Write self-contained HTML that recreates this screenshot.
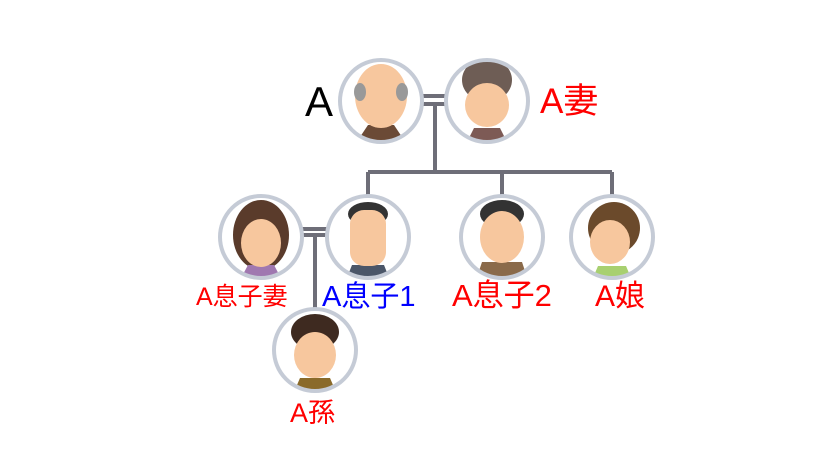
<!DOCTYPE html>
<html><head><meta charset="utf-8"><style>
html,body{margin:0;padding:0;background:#fff}
svg text{font-family:"Liberation Sans","Noto Sans CJK JP",sans-serif}
</style></head><body>
<svg width="830" height="470" viewBox="0 0 830 470" xmlns="http://www.w3.org/2000/svg">
<g stroke="#6e6e78" stroke-width="4" fill="none">
<line x1="423" y1="96" x2="446" y2="96"/>
<line x1="423" y1="104" x2="446" y2="104"/>
<line x1="435" y1="104" x2="435" y2="172"/>
<line x1="368" y1="172" x2="612" y2="172"/>
<line x1="368" y1="172" x2="368" y2="196"/>
<line x1="502" y1="172" x2="502" y2="196"/>
<line x1="612" y1="172" x2="612" y2="196"/>
<line x1="302" y1="229" x2="327" y2="229"/>
<line x1="302" y1="235" x2="327" y2="235"/>
<line x1="315" y1="235" x2="315" y2="308"/>
</g>
<defs>
<clipPath id="c1"><circle cx="381" cy="101" r="40"/></clipPath>
<clipPath id="c2"><circle cx="487" cy="101" r="40"/></clipPath>
<clipPath id="c3"><circle cx="261" cy="237" r="40"/></clipPath>
<clipPath id="c4"><circle cx="368" cy="237" r="40"/></clipPath>
<clipPath id="c5"><circle cx="502" cy="237" r="40"/></clipPath>
<clipPath id="c6"><circle cx="612" cy="237" r="40"/></clipPath>
<clipPath id="c7"><circle cx="315" cy="350" r="40"/></clipPath>
</defs>
<g clip-path="url(#c1)"><circle cx="381" cy="101" r="42" fill="#fff"/>
<path d="M358 140 L368 125 L394 125 L404 140Z" fill="#6b4a36"/>
<ellipse cx="381" cy="96" rx="26" ry="32" fill="#f7c79e"/><ellipse cx="360" cy="92" rx="6" ry="9" fill="#999"/><ellipse cx="402" cy="92" rx="6" ry="9" fill="#999"/></g>
<g clip-path="url(#c2)"><circle cx="487" cy="101" r="42" fill="#fff"/>
<ellipse cx="487" cy="80" rx="25" ry="22" fill="#6e5d55"/>
<path d="M468 140 L474 128 L500 128 L506 140Z" fill="#7d5a55"/>
<ellipse cx="487" cy="105" rx="22" ry="22" fill="#f7c79e"/></g>
<g clip-path="url(#c3)"><circle cx="261" cy="237" r="42" fill="#fff"/>
<ellipse cx="261" cy="235" rx="28" ry="35" fill="#5a3b2b"/>
<path d="M240 280 L248 265 L274 265 L282 280Z" fill="#a078b0"/>
<ellipse cx="261" cy="243" rx="20" ry="24" fill="#f7c79e"/></g>
<g clip-path="url(#c4)"><circle cx="368" cy="237" r="42" fill="#fff"/>
<path d="M346 280 L352 265 L384 265 L390 280Z" fill="#4b5668"/>
<ellipse cx="368" cy="214" rx="20" ry="12" fill="#333"/>
<rect x="350" y="210" width="36" height="56" rx="14" fill="#f7c79e"/></g>
<g clip-path="url(#c5)"><circle cx="502" cy="237" r="42" fill="#fff"/>
<path d="M476 280 L482 262 L522 262 L528 280Z" fill="#8a6a4a"/>
<ellipse cx="502" cy="214" rx="22" ry="14" fill="#333"/>
<ellipse cx="502" cy="237" rx="22" ry="26" fill="#f7c79e"/></g>
<g clip-path="url(#c6)"><circle cx="612" cy="237" r="42" fill="#fff"/>
<ellipse cx="614" cy="228" rx="26" ry="26" fill="#6b4a2b"/>
<path d="M592 280 L598 266 L626 266 L632 280Z" fill="#a8d070"/>
<ellipse cx="610" cy="242" rx="20" ry="22" fill="#f7c79e"/></g>
<g clip-path="url(#c7)"><circle cx="315" cy="350" r="42" fill="#fff"/>
<ellipse cx="315" cy="332" rx="24" ry="18" fill="#3e2a20"/>
<path d="M294 392 L300 378 L330 378 L336 392Z" fill="#8a6a2a"/>
<ellipse cx="315" cy="355" rx="21" ry="23" fill="#f7c79e"/></g>
<g fill="none" stroke="#c5cbd6" stroke-width="4">
<circle cx="381" cy="101" r="41"/><circle cx="487" cy="101" r="41"/>
<circle cx="261" cy="237" r="41"/><circle cx="368" cy="237" r="41"/>
<circle cx="502" cy="237" r="41"/><circle cx="612" cy="237" r="41"/>
<circle cx="315" cy="350" r="41"/>
</g>
<text x="305" y="116" font-size="42" fill="#000">A</text>
<text x="540" y="113" font-size="35" fill="#f00">A妻</text>
<text x="196" y="305" font-size="25" fill="#f00">A息子妻</text>
<text x="322" y="306" font-size="29" fill="#00f">A息子1</text>
<text x="452" y="306" font-size="31" fill="#f00">A息子2</text>
<text x="595" y="306" font-size="30" fill="#f00">A娘</text>
<text x="290" y="422" font-size="27" fill="#f00">A孫</text>
</svg>
</body></html>
